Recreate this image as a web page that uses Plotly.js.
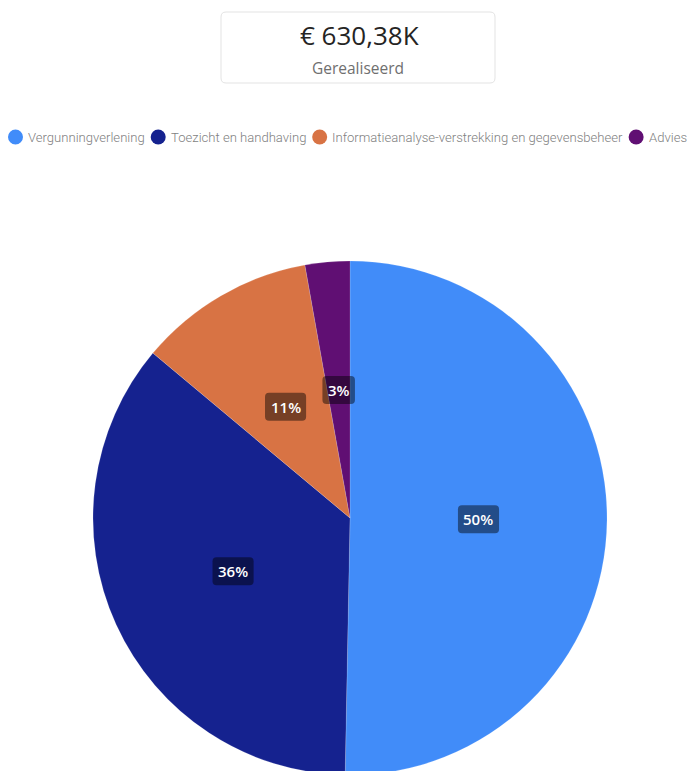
<!DOCTYPE html>
<html>
<head>
<meta charset="utf-8">
<script src="https://cdn.plot.ly/plotly-3.0.1.min.js"></script>
<style>
html,body{margin:0;padding:0;overflow:hidden;background:#fff;}
#chart{width:687px;height:800px;}
</style>
</head>
<body>
<div id="chart"></div>
<script>
// ---- data ----
const categories = ['Vergunningverlening', 'Toezicht en handhaving', 'Informatieanalyse-verstrekking en gegevensbeheer', 'Advies'];
const values = [317.1, 225.6, 70.0, 17.7];
const colors = ['#418cf9', '#15228f', '#d87344', '#600f73'];
const cardValue = '€ 630,38K';
const cardLabel = 'Gerealiseerd';

// ---- layout helpers ----
const W = 687, H = 800;
const px = x => x / W;
const py = y => 1 - y / H;

function roundedRectPath(x0, y0, x1, y1, r) {
  const p = (x, y) => px(x) + ',' + py(y);
  return 'M' + p(x0 + r, y0) + ' L' + p(x1 - r, y0) + ' Q' + p(x1, y0) + ' ' + p(x1, y0 + r) +
    ' L' + p(x1, y1 - r) + ' Q' + p(x1, y1) + ' ' + p(x1 - r, y1) +
    ' L' + p(x0 + r, y1) + ' Q' + p(x0, y1) + ' ' + p(x0, y1 - r) +
    ' L' + p(x0, y0 + r) + ' Q' + p(x0, y0) + ' ' + p(x0 + r, y0) + ' Z';
}

const canvas = document.createElement('canvas');
const ctx = canvas.getContext('2d');
function textWidth(t, font) { ctx.font = font; return ctx.measureText(t).width; }

const shapes = [];
const annotations = [];

// ---- card ----
shapes.push({type: 'path', xref: 'paper', yref: 'paper', path: roundedRectPath(221, 12, 495, 83, 5),
  line: {color: '#e3e3e3', width: 1}, fillcolor: '#ffffff', layer: 'below'});
annotations.push({xref: 'paper', yref: 'paper', x: px(359), y: py(35), text: cardValue, showarrow: false,
  font: {family: 'Open Sans, sans-serif', size: 26, color: '#252423'}, xanchor: 'center', yanchor: 'middle'});
annotations.push({xref: 'paper', yref: 'paper', x: px(358), y: py(68), text: cardLabel, showarrow: false,
  font: {family: 'Open Sans, sans-serif', size: 15.5, color: '#6f6f6f'}, xanchor: 'center', yanchor: 'middle'});

// ---- custom legend ----
const legFamily = 'Roboto';
const targetLeft = 8, targetRight = 685, circ = 15, gapText = 3, gapItem = 8;
const fixedW = categories.length * (circ + gapText) + (categories.length - 1) * gapItem;
function textSum(sz) {
  return categories.reduce((s, c) => s + textWidth(c, '300 ' + sz + 'px ' + legFamily), 0);
}
const legSize = 12 * (targetRight - targetLeft - fixedW) / textSum(12);
let lx = targetLeft;
const legY = 137;
categories.forEach((c, i) => {
  shapes.push({type: 'circle', xref: 'paper', yref: 'paper', x0: px(lx), x1: px(lx + circ), y0: py(legY + circ / 2), y1: py(legY - circ / 2),
    fillcolor: colors[i], line: {width: 0}});
  const tx = lx + circ + gapText;
  annotations.push({xref: 'paper', yref: 'paper', x: px(tx), y: py(legY), text: c, showarrow: false,
    xanchor: 'left', yanchor: 'middle', font: {family: legFamily, size: legSize, color: '#7f7f7f', weight: 300}});
  lx = tx + textWidth(c, '300 ' + legSize + 'px ' + legFamily) + gapItem;
});

// ---- pie geometry ----
const cx = 350, cy = 518, R = 257;
const domain = {x: [px(cx - R), px(cx + R)], y: [py(cy + R), py(cy - R)]};

// ---- slice labels with rounded dark boxes ----
const total = values.reduce((a, b) => a + b, 0);
let cum = 0;
const labFont = '600 15px Open Sans';
values.forEach((v, i) => {
  const f = v / total;
  const th = 2 * Math.PI * (cum + f / 2);
  cum += f;
  const lxp = cx + 0.5 * R * Math.sin(th);
  const lyp = cy - 0.5 * R * Math.cos(th);
  const txt = Math.round(f * 100) + '%';
  const tw = textWidth(txt, labFont);
  const bw = tw + 11, bh = 28;
  shapes.push({type: 'path', xref: 'paper', yref: 'paper', path: roundedRectPath(lxp - bw / 2, lyp - bh / 2, lxp + bw / 2, lyp + bh / 2, 4),
    fillcolor: 'rgba(0,0,0,0.45)', line: {width: 0}, layer: 'above'});
  annotations.push({xref: 'paper', yref: 'paper', x: px(lxp), y: py(lyp), text: txt, showarrow: false,
    xanchor: 'center', yanchor: 'middle', font: {family: 'Open Sans, sans-serif', size: 15, color: '#ffffff', weight: 600}});
});

const trace = {
  type: 'pie',
  labels: categories,
  values: values,
  sort: false,
  direction: 'clockwise',
  rotation: 0,
  marker: {colors: colors, line: {color: 'rgba(255,255,255,0.3)', width: 0.5}},
  textinfo: 'none',
  hoverinfo: 'label+value+percent',
  showlegend: false,
  domain: domain
};

const layout = {
  width: W, height: H,
  margin: {l: 0, r: 0, t: 0, b: 0},
  paper_bgcolor: '#ffffff',
  showlegend: false,
  shapes: shapes,
  annotations: annotations
};

Plotly.newPlot('chart', [trace], layout, {displayModeBar: false, staticPlot: true});
</script>
</body>
</html>
